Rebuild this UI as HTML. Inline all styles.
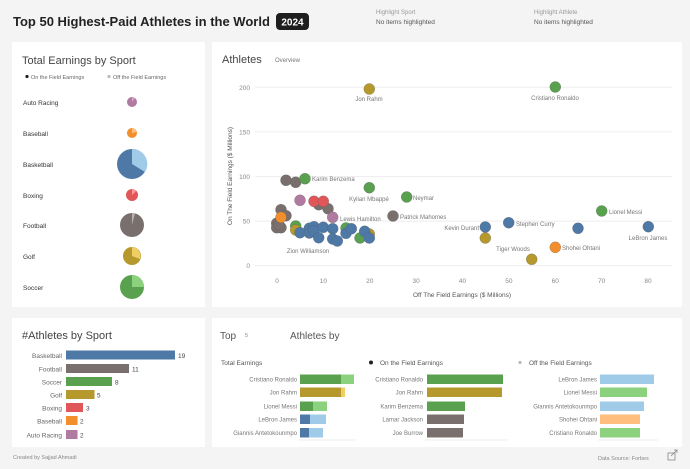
<!DOCTYPE html>
<html><head><meta charset="utf-8"><style>
body{margin:0;background:#f4f4f4;}
svg{display:block;font-family:"Liberation Sans",sans-serif;}
</style></head><body>
<svg width="690" height="469" viewBox="0 0 690 469">
<rect width="690" height="469" fill="#f4f4f4"/>
<text x="13" y="26" font-size="13" font-weight="bold" fill="#222">Top 50 Highest-Paid Athletes in the World</text>
<rect x="276" y="13" width="33" height="17" rx="4" fill="#1e1e1e"/>
<text x="292.5" y="25.5" font-size="10" font-weight="bold" fill="#fff" text-anchor="middle">2024</text>
<text x="376" y="14" font-size="6" fill="#999">Highlight Sport</text>
<text x="376" y="24" font-size="6.5" fill="#555">No items highlighted</text>
<text x="534" y="14" font-size="6" fill="#999">Highlight Athlete</text>
<text x="534" y="24" font-size="6.5" fill="#555">No items highlighted</text>
<!-- panels -->
<rect x="12" y="42" width="193" height="265" fill="#fff"/>
<rect x="212" y="42" width="470" height="265" fill="#fff"/>
<rect x="12" y="318" width="193" height="129" fill="#fff"/>
<rect x="212" y="318" width="470" height="129" fill="#fff"/>
<!-- left pies -->
<text x="22" y="64" font-size="11" fill="#444">Total Earnings by Sport</text>
<circle cx="27" cy="76.5" r="1.6" fill="#222"/><text x="31" y="79" font-size="5.5" fill="#666">On the Field Earnings</text>
<circle cx="109" cy="76.5" r="1.6" fill="#bbb"/><text x="113" y="79" font-size="5.5" fill="#666">Off the Field Earnings</text>
<g font-size="6.5" fill="#333">
<text x="23" y="105">Auto Racing</text><text x="23" y="136">Baseball</text><text x="23" y="167">Basketball</text><text x="23" y="198">Boxing</text><text x="23" y="228">Football</text><text x="23" y="259">Golf</text><text x="23" y="290">Soccer</text></g>
<circle cx="132" cy="102" r="5" fill="#b07aa1"/><path d="M132 102 L132 97 A5 5 0 0 1 135 98 Z" fill="#d4a6c8"/>
<circle cx="132" cy="133" r="5" fill="#f28e2b"/><path d="M132 133 L132 128 A5 5 0 0 1 137 132 Z" fill="#ffbe7d"/>
<circle cx="132" cy="164" r="15" fill="#4e79a7"/><path d="M132 164 L132 149 A15 15 0 0 1 145 172 Z" fill="#a0cbe8"/>
<circle cx="132" cy="195" r="6" fill="#e15759"/><path d="M132 195 L132 189 A6 6 0 0 1 136 191 Z" fill="#ff9d9a"/>
<circle cx="132" cy="225" r="12" fill="#79706e"/><path d="M132 225 L132 213 A12 12 0 0 1 135 213.4 Z" fill="#bab0ac"/>
<circle cx="132" cy="256" r="9" fill="#b6992d"/><path d="M132 256 L132 247 A9 9 0 0 1 140 259 Z" fill="#f1ce63"/>
<circle cx="132" cy="287" r="12" fill="#59a14f"/><path d="M132 287 L132 275 A12 12 0 0 1 144 287 Z" fill="#8cd17d"/>
<!-- scatter -->
<text x="222" y="63" font-size="11" fill="#444">Athletes</text>
<text x="275" y="62" font-size="6" fill="#777">Overview</text>
<g stroke="#eee" stroke-width="1">
<line x1="255" y1="87.3" x2="672" y2="87.3"/><line x1="255" y1="131.9" x2="672" y2="131.9"/><line x1="255" y1="176.5" x2="672" y2="176.5"/><line x1="255" y1="221.1" x2="672" y2="221.1"/><line x1="255" y1="265.7" x2="672" y2="265.7"/>
</g>
<g font-size="6.5" fill="#888" text-anchor="end">
<text x="250" y="90">200</text><text x="250" y="134.5">150</text><text x="250" y="179">100</text><text x="250" y="223.5">50</text><text x="250" y="268">0</text></g>
<g font-size="6.5" fill="#888" text-anchor="middle">
<text x="277" y="283">0</text><text x="323.4" y="283">10</text><text x="369.8" y="283">20</text><text x="416.1" y="283">30</text><text x="462.5" y="283">40</text><text x="508.9" y="283">50</text><text x="555.3" y="283">60</text><text x="601.6" y="283">70</text><text x="648" y="283">80</text></g>
<text x="462" y="297" font-size="6.5" fill="#555" text-anchor="middle">Off The Field Earnings ($ Millions)</text>
<text transform="translate(232,176) rotate(-90)" font-size="6.5" fill="#555" text-anchor="middle">On The Field Earnings ($ Millions)</text>
<g stroke="#555" stroke-opacity="0.5" stroke-width="0.5">
<circle cx="286" cy="180.3" r="5.5" fill="#79706e"/><circle cx="295.7" cy="182.3" r="5.5" fill="#79706e"/>
<circle cx="318.7" cy="204.7" r="5.5" fill="#79706e"/><circle cx="328" cy="208.7" r="5.5" fill="#79706e"/>
<circle cx="393" cy="216" r="5.5" fill="#79706e"/><circle cx="281" cy="209.7" r="5.5" fill="#79706e"/><circle cx="286" cy="215.7" r="5.5" fill="#79706e"/>
<circle cx="276.7" cy="223.3" r="5.5" fill="#79706e"/><circle cx="276.7" cy="227.7" r="5.5" fill="#79706e"/><circle cx="281" cy="227.7" r="5.5" fill="#79706e"/><circle cx="279" cy="225" r="5.5" fill="#79706e"/><circle cx="309" cy="231" r="5.5" fill="#79706e"/>
<circle cx="281" cy="217.3" r="5.5" fill="#f28e2b"/>
<circle cx="300" cy="200.3" r="5.5" fill="#b07aa1"/><circle cx="332.7" cy="217.3" r="5.5" fill="#b07aa1"/>
<circle cx="314" cy="201.3" r="5.5" fill="#e15759"/><circle cx="323.3" cy="201.3" r="5.5" fill="#e15759"/>
<circle cx="369.3" cy="89" r="5.5" fill="#b6992d"/><circle cx="555.3" cy="87" r="5.5" fill="#59a14f"/>
<circle cx="305" cy="178.7" r="5.5" fill="#59a14f"/><circle cx="369.3" cy="187.7" r="5.5" fill="#59a14f"/><circle cx="406.7" cy="197" r="5.5" fill="#59a14f"/>
<circle cx="295.7" cy="226" r="5.5" fill="#59a14f"/><circle cx="295.7" cy="230" r="5.5" fill="#b6992d"/>
<circle cx="300" cy="232.7" r="5.5" fill="#4e79a7"/><circle cx="309.3" cy="228.3" r="5.5" fill="#4e79a7"/><circle cx="309.3" cy="233" r="5.5" fill="#4e79a7"/><circle cx="314" cy="226.7" r="5.5" fill="#4e79a7"/><circle cx="314" cy="230.7" r="5.5" fill="#4e79a7"/><circle cx="318.7" cy="237.7" r="5.5" fill="#4e79a7"/><circle cx="323.3" cy="227.3" r="5.5" fill="#4e79a7"/><circle cx="332.7" cy="228.7" r="5.5" fill="#4e79a7"/><circle cx="332.7" cy="239" r="5.5" fill="#4e79a7"/><circle cx="337.3" cy="241" r="5.5" fill="#4e79a7"/>
<circle cx="346" cy="228" r="5.5" fill="#59a14f"/><circle cx="346" cy="233.3" r="5.5" fill="#4e79a7"/><circle cx="351.3" cy="228.7" r="5.5" fill="#4e79a7"/><circle cx="360" cy="238" r="5.5" fill="#59a14f"/><circle cx="369.3" cy="234" r="5.5" fill="#b6992d"/><circle cx="364.7" cy="231.3" r="5.5" fill="#4e79a7"/><circle cx="369.3" cy="238" r="5.5" fill="#4e79a7"/>
<circle cx="485.3" cy="227" r="5.5" fill="#4e79a7"/><circle cx="508.7" cy="222.7" r="5.5" fill="#4e79a7"/><circle cx="578" cy="228.3" r="5.5" fill="#4e79a7"/><circle cx="601.7" cy="211" r="5.5" fill="#59a14f"/><circle cx="648.3" cy="226.7" r="5.5" fill="#4e79a7"/>
<circle cx="485.3" cy="238" r="5.5" fill="#b6992d"/><circle cx="555.3" cy="247.3" r="5.5" fill="#f28e2b"/><circle cx="531.7" cy="259.3" r="5.5" fill="#b6992d"/>
</g>
<g font-size="6" fill="#777">
<text x="369" y="101" text-anchor="middle">Jon Rahm</text>
<text x="555" y="100" text-anchor="middle">Cristiano Ronaldo</text>
<text x="312" y="181">Karim Benzema</text>
<text x="369" y="201" text-anchor="middle">Kylian Mbappé</text>
<text x="413" y="200">Neymar</text>
<text x="340" y="221">Lewis Hamilton</text>
<text x="400" y="219">Patrick Mahomes</text>
<text x="479" y="230" text-anchor="end">Kevin Durant</text>
<text x="516" y="226">Stephen Curry</text>
<text x="609" y="214">Lionel Messi</text>
<text x="648" y="240" text-anchor="middle">LeBron James</text>
<text x="513" y="251" text-anchor="middle">Tiger Woods</text>
<text x="562" y="250">Shohei Ohtani</text>
<text x="308" y="253" text-anchor="middle">Zion Williamson</text>
</g>
<!-- bottom left bars -->
<text x="22" y="339" font-size="11" fill="#444">#Athletes by Sport</text>
<g font-size="6.5" fill="#666" text-anchor="end">
<text x="62" y="358">Basketball</text><text x="62" y="371.5">Football</text><text x="62" y="384.5">Soccer</text><text x="62" y="397.5">Golf</text><text x="62" y="410.5">Boxing</text><text x="62" y="423.5">Baseball</text><text x="62" y="437.5">Auto Racing</text></g>
<rect x="66" y="350.5" width="109" height="9" fill="#4e79a7"/>
<rect x="66" y="364" width="63" height="9" fill="#79706e"/>
<rect x="66" y="377" width="46" height="9" fill="#59a14f"/>
<rect x="66" y="390" width="28.5" height="9" fill="#b6992d"/>
<rect x="66" y="403" width="17" height="9" fill="#e15759"/>
<rect x="66" y="416" width="11.5" height="9" fill="#f28e2b"/>
<rect x="66" y="430" width="11.5" height="9" fill="#b07aa1"/>
<g font-size="6.5" fill="#444">
<text x="178" y="358">19</text><text x="132" y="371.5">11</text><text x="115" y="384.5">8</text><text x="97" y="397.5">5</text><text x="86" y="410.5">3</text><text x="80" y="423.5">2</text><text x="80" y="437.5">2</text></g>
<text x="13" y="459" font-size="5.5" fill="#888">Created by Sajjad Ahmadi</text>
<text x="598" y="460" font-size="5.5" fill="#888">Data Source: Forbes</text>
<rect x="668" y="453" width="7" height="7" fill="none" stroke="#888" stroke-width="0.8"/><path d="M671 456 L677 450 M674 450 H677 V453" stroke="#888" stroke-width="0.8" fill="none"/>
<!-- bottom right -->
<text x="220" y="339" font-size="10" fill="#555">Top</text>
<text x="245" y="337" font-size="5.5" fill="#888">5</text>
<text x="290" y="339" font-size="10" fill="#555">Athletes by</text>
<text x="221" y="365" font-size="6.5" fill="#555">Total Earnings</text>
<circle cx="371" cy="362.5" r="2" fill="#222"/><text x="380" y="365" font-size="6.5" fill="#555">On the Field Earnings</text>
<circle cx="520" cy="362.5" r="1.6" fill="#bbb"/><text x="529" y="365" font-size="6.5" fill="#555">Off the Field Earnings</text>
<g font-size="6" fill="#777" text-anchor="end">
<text x="297" y="381.5">Cristiano Ronaldo</text><text x="297" y="394.5">Jon Rahm</text><text x="297" y="408.5">Lionel Messi</text><text x="297" y="421.5">LeBron James</text><text x="297" y="435">Giannis Antetokounmpo</text>
<text x="423" y="381.5">Cristiano Ronaldo</text><text x="423" y="394.5">Jon Rahm</text><text x="423" y="408.5">Karim Benzema</text><text x="423" y="421.5">Lamar Jackson</text><text x="423" y="435">Joe Burrow</text>
<text x="597" y="381.5">LeBron James</text><text x="597" y="394.5">Lionel Messi</text><text x="597" y="408.5">Giannis Antetokounmpo</text><text x="597" y="421.5">Shohei Ohtani</text><text x="597" y="435">Cristiano Ronaldo</text>
</g>
<g>
<rect x="300" y="374.5" width="41" height="9.5" fill="#59a14f"/><rect x="341" y="374.5" width="13" height="9.5" fill="#8cd17d"/>
<rect x="300" y="387.5" width="41" height="9.5" fill="#b6992d"/><rect x="341" y="387.5" width="4" height="9.5" fill="#f1ce63"/>
<rect x="300" y="401.5" width="13" height="9.5" fill="#59a14f"/><rect x="313" y="401.5" width="14" height="9.5" fill="#8cd17d"/>
<rect x="300" y="414.5" width="10" height="9.5" fill="#4e79a7"/><rect x="310" y="414.5" width="16" height="9.5" fill="#a0cbe8"/>
<rect x="300" y="428" width="9" height="9.5" fill="#4e79a7"/><rect x="309" y="428" width="14" height="9.5" fill="#a0cbe8"/>
<rect x="427" y="374.5" width="76" height="9.5" fill="#59a14f"/>
<rect x="427" y="387.5" width="75" height="9.5" fill="#b6992d"/>
<rect x="427" y="401.5" width="38" height="9.5" fill="#59a14f"/>
<rect x="427" y="414.5" width="37" height="9.5" fill="#79706e"/>
<rect x="427" y="428" width="36" height="9.5" fill="#79706e"/>
<rect x="600" y="374.5" width="54" height="9.5" fill="#a0cbe8"/>
<rect x="600" y="387.5" width="47" height="9.5" fill="#8cd17d"/>
<rect x="600" y="401.5" width="44" height="9.5" fill="#a0cbe8"/>
<rect x="600" y="414.5" width="40" height="9.5" fill="#ffbe7d"/>
<rect x="600" y="428" width="40" height="9.5" fill="#8cd17d"/>
</g>
<g stroke="#e6e6e6" stroke-width="0.8">
<line x1="298" y1="440" x2="356" y2="440"/><line x1="425" y1="440" x2="508" y2="440"/><line x1="598" y1="440" x2="658" y2="440"/></g>
</svg>
</body></html>
